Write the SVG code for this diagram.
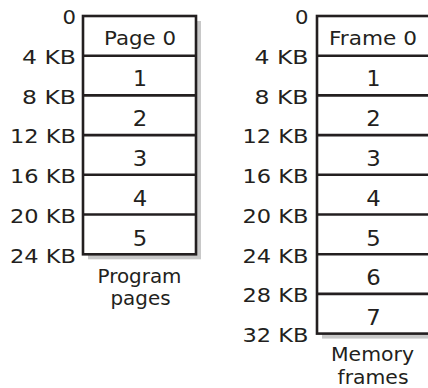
<svg xmlns="http://www.w3.org/2000/svg" width="428" height="388" viewBox="0 0 428 388">
<style>
text{font-family:"DejaVu Sans","Liberation Sans",sans-serif;font-size:20px;fill:#231f20}
.lbl{text-anchor:end}
.cell{text-anchor:middle}
.num{font-size:21px}
.cap{text-anchor:middle;font-size:19px}
.shadow{fill:#c8c8c8}
.box{fill:#fff;stroke:#231f20;stroke-width:2.6}
.div{stroke:#231f20;stroke-width:2.6}
</style>
<rect width="428" height="388" fill="#fff"/>
<g id="program-pages">
<rect class="shadow" x="88" y="21" width="113" height="238.3"/>
<rect class="box" x="83" y="16" width="113" height="238.3"/>
<g class="div">
<line x1="83" y1="55.7" x2="196" y2="55.7"/>
<line x1="83" y1="95.4" x2="196" y2="95.4"/>
<line x1="83" y1="135.1" x2="196" y2="135.1"/>
<line x1="83" y1="174.8" x2="196" y2="174.8"/>
<line x1="83" y1="214.5" x2="196" y2="214.5"/>
</g>
<g id="page0"><text class="cell" x="140" y="45" textLength="72" lengthAdjust="spacingAndGlyphs">Page 0</text></g>
<g id="page1"><text class="cell num" x="140" y="85.5" textLength="14" lengthAdjust="spacingAndGlyphs">1</text></g>
<g id="page2"><text class="cell num" x="140" y="126" textLength="14.5" lengthAdjust="spacingAndGlyphs">2</text></g>
<g id="page3"><text class="cell num" x="140" y="166" textLength="14.5" lengthAdjust="spacingAndGlyphs">3</text></g>
<g id="page4"><text class="cell num" x="140" y="206" textLength="14.5" lengthAdjust="spacingAndGlyphs">4</text></g>
<g id="page5"><text class="cell num" x="140" y="245.5" textLength="14.5" lengthAdjust="spacingAndGlyphs">5</text></g>
<g id="program-addresses">
<text class="lbl" x="76" y="24" textLength="13.5" lengthAdjust="spacingAndGlyphs">0</text>
<text class="lbl" x="76" y="64" textLength="54" lengthAdjust="spacingAndGlyphs">4 KB</text>
<text class="lbl" x="76" y="103.7" textLength="54" lengthAdjust="spacingAndGlyphs">8 KB</text>
<text class="lbl" x="76" y="143.4" textLength="66" lengthAdjust="spacingAndGlyphs">12 KB</text>
<text class="lbl" x="76" y="183.1" textLength="66" lengthAdjust="spacingAndGlyphs">16 KB</text>
<text class="lbl" x="76" y="222.8" textLength="66" lengthAdjust="spacingAndGlyphs">20 KB</text>
<text class="lbl" x="76" y="262.5" textLength="66" lengthAdjust="spacingAndGlyphs">24 KB</text>
</g>
<g id="program-caption">
<text class="cap" x="139.5" y="283" textLength="84" lengthAdjust="spacingAndGlyphs">Program</text>
<text class="cap" x="140.5" y="305" textLength="60" lengthAdjust="spacingAndGlyphs">pages</text>
</g>
</g>
<g id="memory-frames">
<rect class="shadow" x="322" y="21" width="113" height="317.6"/>
<rect class="box" x="317" y="16" width="113" height="317.6"/>
<g class="div">
<line x1="317" y1="55.7" x2="430" y2="55.7"/>
<line x1="317" y1="95.4" x2="430" y2="95.4"/>
<line x1="317" y1="135.1" x2="430" y2="135.1"/>
<line x1="317" y1="174.8" x2="430" y2="174.8"/>
<line x1="317" y1="214.5" x2="430" y2="214.5"/>
<line x1="317" y1="254.2" x2="430" y2="254.2"/>
<line x1="317" y1="293.9" x2="430" y2="293.9"/>
</g>
<g id="frame0"><text class="cell" x="373" y="45" textLength="88" lengthAdjust="spacingAndGlyphs">Frame 0</text></g>
<g id="frame1"><text class="cell num" x="373.5" y="85.5" textLength="14" lengthAdjust="spacingAndGlyphs">1</text></g>
<g id="frame2"><text class="cell num" x="373.5" y="126" textLength="14.5" lengthAdjust="spacingAndGlyphs">2</text></g>
<g id="frame3"><text class="cell num" x="373.5" y="166" textLength="14.5" lengthAdjust="spacingAndGlyphs">3</text></g>
<g id="frame4"><text class="cell num" x="373.5" y="206" textLength="14.5" lengthAdjust="spacingAndGlyphs">4</text></g>
<g id="frame5"><text class="cell num" x="373.5" y="245.5" textLength="14.5" lengthAdjust="spacingAndGlyphs">5</text></g>
<g id="frame6"><text class="cell num" x="373.5" y="285" textLength="14.5" lengthAdjust="spacingAndGlyphs">6</text></g>
<g id="frame7"><text class="cell num" x="373.5" y="325" textLength="14.5" lengthAdjust="spacingAndGlyphs">7</text></g>
<g id="memory-addresses">
<text class="lbl" x="308.5" y="24" textLength="13.5" lengthAdjust="spacingAndGlyphs">0</text>
<text class="lbl" x="308.5" y="64" textLength="54" lengthAdjust="spacingAndGlyphs">4 KB</text>
<text class="lbl" x="308.5" y="103.7" textLength="54" lengthAdjust="spacingAndGlyphs">8 KB</text>
<text class="lbl" x="308.5" y="143.4" textLength="66" lengthAdjust="spacingAndGlyphs">12 KB</text>
<text class="lbl" x="308.5" y="183.1" textLength="66" lengthAdjust="spacingAndGlyphs">16 KB</text>
<text class="lbl" x="308.5" y="222.8" textLength="66" lengthAdjust="spacingAndGlyphs">20 KB</text>
<text class="lbl" x="308.5" y="262.5" textLength="66" lengthAdjust="spacingAndGlyphs">24 KB</text>
<text class="lbl" x="308.5" y="302.2" textLength="66" lengthAdjust="spacingAndGlyphs">28 KB</text>
<text class="lbl" x="308.5" y="341.9" textLength="66" lengthAdjust="spacingAndGlyphs">32 KB</text>
</g>
<g id="memory-caption">
<text class="cap" x="372.5" y="361" textLength="83" lengthAdjust="spacingAndGlyphs">Memory</text>
<text class="cap" x="373" y="384" textLength="71" lengthAdjust="spacingAndGlyphs">frames</text>
</g>
</g>
<g id="connectors"/>
</svg>
